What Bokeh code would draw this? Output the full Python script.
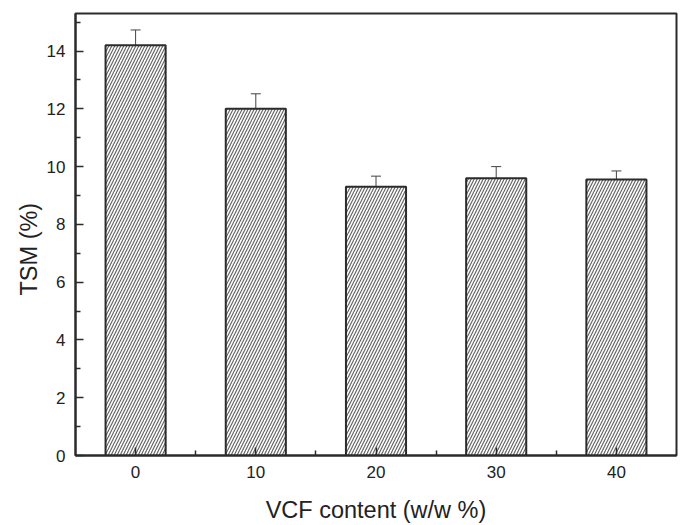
from bokeh.plotting import figure
from bokeh.models import Range1d, FixedTicker, ColumnDataSource, Whisker, Title
from bokeh.embed import file_html
from bokeh.resources import INLINE

# Data
vcf_content = [0, 10, 20, 30, 40]
tsm_mean = [14.2, 12.0, 9.3, 9.6, 9.55]
tsm_err = [0.53, 0.52, 0.37, 0.40, 0.30]
y_ticks = [0, 2, 4, 6, 8, 10, 12, 14]
y_minor = [1, 3, 5, 7, 9, 11, 13, 15]
x_minor = [5, 15, 25, 35]

src = ColumnDataSource(data=dict(
    x=vcf_content,
    top=tsm_mean,
    upper=[m + e for m, e in zip(tsm_mean, tsm_err)],
    lower=[m - e for m, e in zip(tsm_mean, tsm_err)],
))

FONT = "Liberation Sans"
DARK = "#2b2b2b"

p = figure(width=684, height=525, output_backend="svg", toolbar_location=None,
           x_range=Range1d(-5, 45), y_range=Range1d(0, 15.3),
           min_border_left=75, min_border_right=8, min_border_top=13, min_border_bottom=65)
p.background_fill_color = "white"
p.border_fill_color = "white"
p.outline_line_color = DARK
p.outline_line_width = 2
p.grid.visible = False

p.vbar(x="x", top="top", width=5, source=src, fill_color="white",
       line_color=DARK, line_width=2,
       hatch_pattern="/", hatch_color="#666666", hatch_weight=1.2, hatch_scale=6)

w = Whisker(base="x", upper="upper", lower="lower", source=src,
            line_color="#444444", line_width=1)
w.upper_head.size = 10
w.lower_head.size = 10
w.upper_head.line_color = "#444444"
w.lower_head.line_color = "#444444"
p.add_layout(w)

# Axes
p.xaxis.ticker = FixedTicker(ticks=vcf_content, minor_ticks=x_minor)
p.yaxis.ticker = FixedTicker(ticks=y_ticks, minor_ticks=y_minor)
p.xaxis.axis_label = "VCF content (w/w %)"
for ax in (p.xaxis[0], p.yaxis[0]):
    ax.axis_line_color = DARK
    ax.axis_line_width = 2
    ax.major_tick_in = 8
    ax.major_tick_out = 0
    ax.minor_tick_in = 5
    ax.minor_tick_out = 0
    ax.major_tick_line_color = DARK
    ax.minor_tick_line_color = DARK
    ax.major_tick_line_width = 1.5
    ax.minor_tick_line_width = 1.5
    ax.major_label_text_font = FONT
    ax.major_label_text_font_size = "17px"
    ax.major_label_text_color = "#222222"
    ax.axis_label_text_font = FONT
    ax.axis_label_text_font_size = "23.5px"
    ax.axis_label_text_font_style = "normal"
    ax.axis_label_text_color = "#222222"
    ax.major_label_standoff = 10
p.xaxis.axis_label_standoff = 16

ytitle = Title(text="TSM (%)", align="left", offset=160, standoff=4,
               text_font=FONT, text_font_size="23.5px", text_font_style="normal",
               text_color="#222222")
p.add_layout(ytitle, "left")

open("out.html", "w").write(file_html(p, INLINE))
